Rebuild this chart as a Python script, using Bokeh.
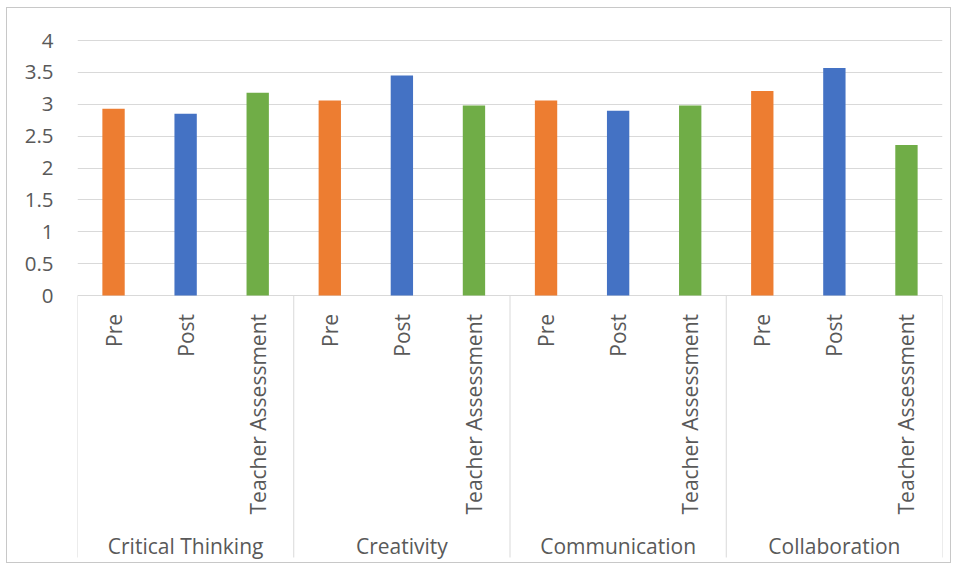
import math
from bokeh.plotting import figure
from bokeh.models import FactorRange, Range1d, ColumnDataSource, FixedTicker, CustomJSTickFormatter
from bokeh.core.properties import value
from bokeh.embed import file_html
from bokeh.resources import INLINE

groups = ["Critical Thinking", "Creativity", "Communication", "Collaboration"]
subs = ["Pre", "Post", "Teacher Assessment"]
pre = [2.93, 3.06, 3.06, 3.21]
post = [2.85, 3.45, 2.90, 3.57]
teacher = [3.18, 2.98, 2.98, 2.36]
y_ticks = [0, 0.5, 1, 1.5, 2, 2.5, 3, 3.5, 4]
sub_colors = ["#ED7D31", "#4472C4", "#70AD47"]

FONT = "Open Sans"
TXT = "#595959"
GRID = "#d9d9d9"

factors = [(g, s) for g in groups for s in subs]
vals = []
for i in range(len(groups)):
    vals += [pre[i], post[i], teacher[i]]
cols = sub_colors * len(groups)

src = ColumnDataSource(dict(x=factors, top=vals, color=cols))

x_range = FactorRange(*factors, factor_padding=0, group_padding=0, subgroup_padding=0, range_padding=0)
p = figure(x_range=x_range, y_range=Range1d(-4.22, 4.173),
           width=945, height=556, output_backend="svg", toolbar_location=None,
           x_axis_location=None,
           min_border_left=70, min_border_right=10, min_border_top=21, min_border_bottom=0)
p.styles = {"border": "1px solid #c8c8c8", "margin-left": "6px", "margin-top": "7px"}
p.outline_line_color = None
p.background_fill_color = "white"
p.border_fill_color = "white"

p.xgrid.visible = False
p.ygrid.grid_line_color = GRID
p.ygrid.grid_line_width = 1
p.ygrid.bounds = (0, 4)

ax = p.yaxis[0]
ax.ticker = FixedTicker(ticks=y_ticks, minor_ticks=[])
ax.bounds = (0, 4)
ax.formatter = CustomJSTickFormatter(code="return tick.toString();")
ax.axis_line_color = None
ax.major_tick_line_color = None
ax.minor_tick_line_color = None
ax.major_tick_out = 0
ax.major_tick_in = 0
ax.major_label_standoff = 24
ax.major_label_text_font = FONT
ax.major_label_text_font_size = "20.5px"
ax.major_label_text_color = TXT

p.vbar(x="x", top="top", bottom=0, width=0.31, source=src, fill_color="color", line_color=None)

# sub-category labels (rotated)
sub_src = ColumnDataSource(dict(x=factors, text=[f[1] for f in factors]))
p.text(x="x", y=-0.29, text="text", source=sub_src, angle=math.pi / 2,
       text_align="right", text_baseline="middle",
       text_font=value(FONT), text_font_size="21px", text_color=TXT)

# group labels
grp_src = ColumnDataSource(dict(x=groups, text=groups))
p.text(x="x", y=-3.93, text="text", source=grp_src,
       text_align="center", text_baseline="middle",
       text_font=value(FONT), text_font_size="21px", text_color=TXT)

# group separators
seps = [i * len(subs) for i in range(len(groups) + 1)]
p.segment(x0=seps, y0=[0] * len(seps), x1=seps, y1=[-4.11] * len(seps),
          line_color=GRID, line_width=1)

open("out.html", "w").write(file_html(p, INLINE))
